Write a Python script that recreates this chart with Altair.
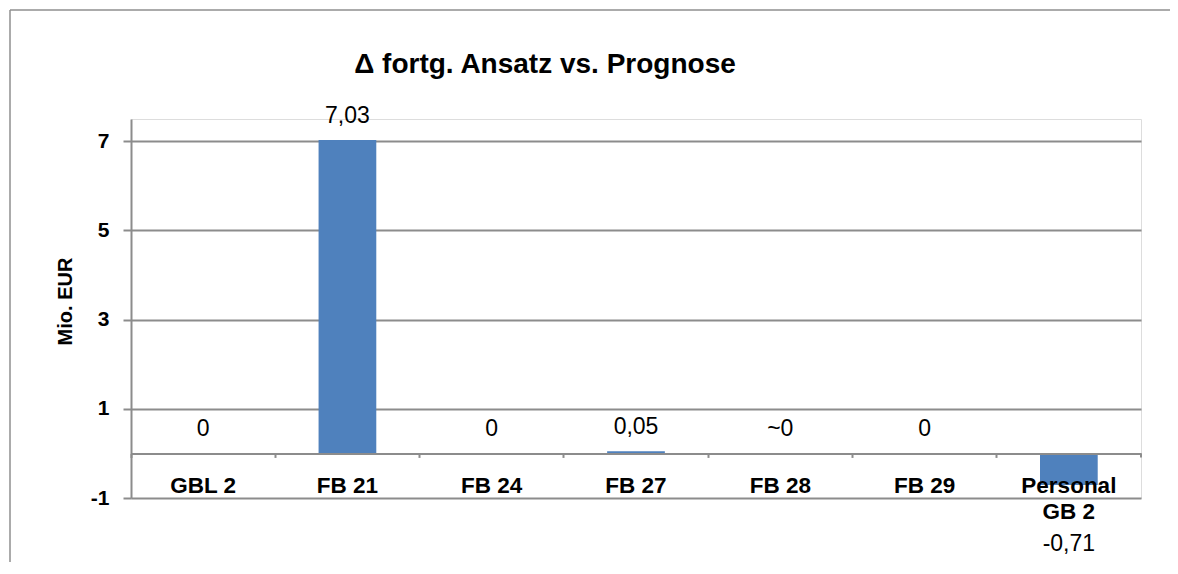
import altair as alt
import pandas as pd

categories = ["GBL 2", "FB 21", "FB 24", "FB 27", "FB 28", "FB 29", "Personal GB 2"]
values = [0.0, 7.03, 0.0, 0.05, 0.003, 0.0, -0.71]
value_labels = ["0", "7,03", "0", "0,05", "~0", "0", "-0,71"]
y_ticks = [-1, 1, 3, 5, 7]
y_domain = [-1, 7.5]

df = pd.DataFrame({"cat": categories, "val": values, "lab": value_labels})
df_end = pd.DataFrame({"val": [0.0], "val2": [-0.09]})

W, H = 1010, 379
FONT = "Liberation Sans"
GRID = "#8c8c8c"
BAR = "#4F81BD"
zero_px = H / (y_domain[1] - y_domain[0]) * (0 - y_domain[0])

x_enc = alt.X(
    "cat:N",
    sort=categories,
    scale=alt.Scale(paddingInner=0, paddingOuter=0),
    axis=alt.Axis(
        title=None, orient="bottom", offset=-zero_px, bandPosition=0,
        tickSize=4, tickColor=GRID, tickWidth=2,
        domainColor=GRID, domainWidth=2,
        labelAngle=0, labelFont=FONT, labelFontSize=22.5, labelFontWeight="bold",
        labelColor="black", labelPadding=17, labelBaseline="top", labelLineHeight=26,
        labelExpr="datum.label == 'Personal GB 2' ? ['Personal', 'GB 2'] : datum.label",
        labelOverlap=False, labelFlush=False, labelBound=False, zindex=1,
    ),
)

y_enc = alt.Y(
    "val:Q",
    scale=alt.Scale(domain=y_domain, nice=False, zero=False),
    axis=alt.Axis(
        values=y_ticks, title="Mio. EUR", grid=True, gridColor=GRID, gridWidth=2,
        domainColor=GRID, domainWidth=2, tickColor=GRID, tickWidth=2, tickSize=8,
        labelFont=FONT, labelFontSize=21, labelFontWeight="bold", labelColor="black",
        labelPadding=14, labelExpr="'' + datum.value",
        titleFont=FONT, titleFontSize=20, titleFontWeight="bold", titleColor="black",
        titleX=-66, titleY=182, titleAngle=-90, titleAlign="center", titleBaseline="middle",
        zindex=0,
    ),
)

base = alt.Chart(df)

bars = base.mark_bar(width={"band": 0.4}, color=BAR).encode(
    x=x_enc, y=y_enc, y2=alt.datum(0)
)

text_pos = base.transform_filter("datum.val >= 0").mark_text(
    dy=-17, baseline="alphabetic", fontSize=23, font=FONT, color="black"
).encode(x=x_enc, y=y_enc, text="lab:N")

text_neg = base.transform_filter("datum.val < 0").mark_text(
    dy=66, baseline="alphabetic", fontSize=23, font=FONT, color="black"
).encode(x=x_enc, y=y_enc, text="lab:N")

end_tick = alt.Chart(df_end).mark_rule(color=GRID, strokeWidth=2).encode(
    x=alt.value(W), y=y_enc, y2="val2:Q"
)

frame_v = alt.Chart(df_end).mark_rule(color="#8f8f8f", strokeWidth=1.5).encode(
    x=alt.value(-121), y=alt.value(-109), y2=alt.value(460)
)
frame_h = alt.Chart(df_end).mark_rule(color="#8f8f8f", strokeWidth=1.5).encode(
    x=alt.value(-121), x2=alt.value(1040), y=alt.value(-109)
)

chart = alt.layer(bars, text_pos, text_neg, end_tick, frame_v, frame_h).properties(
    width=W, height=H,
    padding={"left": 123, "top": 111, "right": 29, "bottom": 64},
    autosize=alt.AutoSizeParams(type="none"),
    title=alt.TitleParams(
        "\u0394 fortg. Ansatz vs. Prognose", anchor="middle", frame="group", dx=-91,
        offset=0, dy=92,
        baseline="alphabetic", font=FONT, fontSize=28, fontWeight="bold", color="black",
    ),
).configure_view(stroke=None).configure(background="white")

chart.save("out.html", embed_options={"renderer": "svg", "actions": False})
